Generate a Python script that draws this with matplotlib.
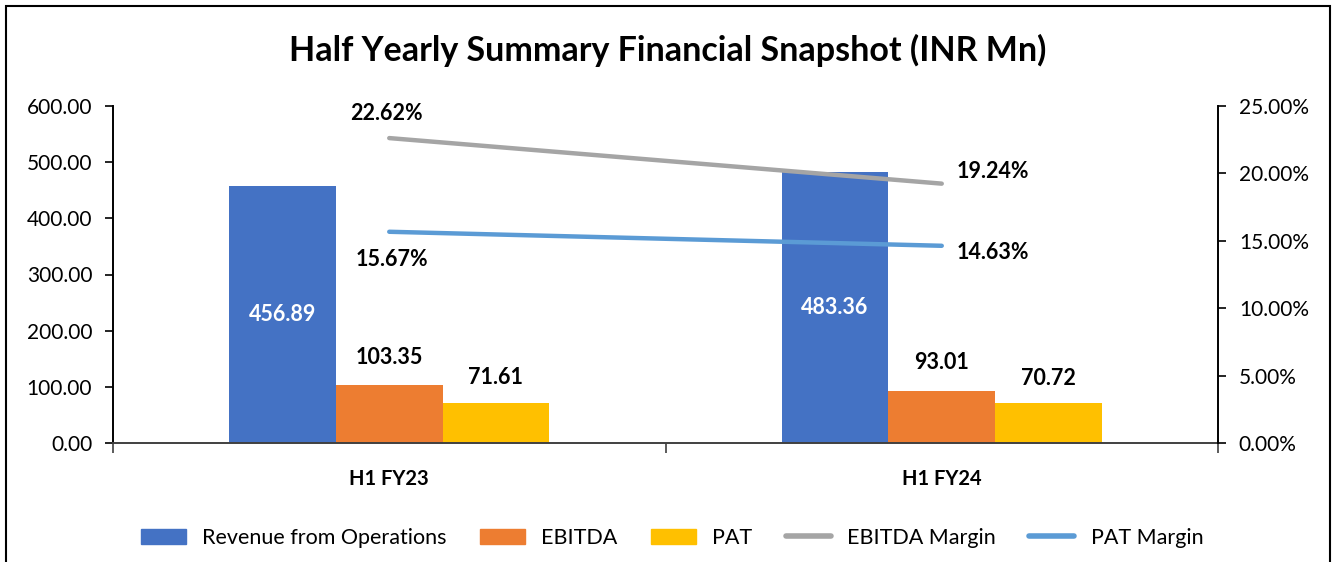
import matplotlib
matplotlib.use("Agg")
import matplotlib.pyplot as plt
from matplotlib.patches import Rectangle, Patch
from matplotlib.lines import Line2D
from matplotlib.ticker import FuncFormatter
import numpy as np

categories = ["H1 FY23", "H1 FY24"]
revenue = [456.89, 483.36]
ebitda = [103.35, 93.01]
pat = [71.61, 70.72]
ebitda_margin = [22.62, 19.24]
pat_margin = [15.67, 14.63]
left_ticks = [0, 100, 200, 300, 400, 500, 600]
right_ticks = [0, 5, 10, 15, 20, 25]

FONT = "Lato"
plt.rcParams['font.family'] = [FONT, 'DejaVu Sans']

C_REV = "#4472C4"
C_EB = "#ED7D31"
C_PAT = "#FFC000"
C_EBM = "#A5A5A5"
C_PATM = "#5B9BD5"

LBL = 15.5

fig = plt.figure(figsize=(13.37, 5.62), dpi=100)
ax = fig.add_axes([113/1337, 1-443/562, (1218-113)/1337, (443-106)/562])
ax2 = ax.twinx()

x = np.arange(len(categories))
w = 0.193
ax.bar(x - w, revenue, w, color=C_REV, zorder=2)
ax.bar(x, ebitda, w, color=C_EB, zorder=2)
ax.bar(x + w, pat, w, color=C_PAT, zorder=2)

for i in range(len(categories)):
    ax.text(x[i] - w, revenue[i] / 2, f"{revenue[i]:.2f}", ha="center", va="center",
            color="white", fontsize=LBL, fontweight="bold")
    ax.annotate(f"{ebitda[i]:.2f}", (x[i], ebitda[i]), xytext=(0, 20), textcoords="offset points",
                ha="center", va="center", fontsize=LBL, fontweight="bold")
    ax.annotate(f"{pat[i]:.2f}", (x[i] + w, pat[i]), xytext=(0, 18), textcoords="offset points",
                ha="center", va="center", fontsize=LBL, fontweight="bold")

ax.set_xlim(-0.5, len(categories) - 0.5)
ax.set_ylim(0, 600)
ax.set_yticks(left_ticks)
ax.yaxis.set_major_formatter(FuncFormatter(lambda v, p: f"{v:.2f}"))
ax.set_xticks([-0.5, 0.5, 1.5])
ax.set_xticklabels([])
ax.set_xticks(x, minor=True)
ax.set_xticklabels(categories, minor=True, fontweight="bold", fontsize=14.5)
ax.tick_params(axis="x", which="minor", length=0, pad=19)
ax.tick_params(axis="x", which="major", length=7, width=1.2, color="#404040")
ax.tick_params(axis="y", length=6, width=1.2, labelsize=15, pad=9)

ax2.plot(x, ebitda_margin, color=C_EBM, lw=3.2, solid_capstyle="round", zorder=3)
ax2.plot(x, pat_margin, color=C_PATM, lw=3.2, solid_capstyle="round", zorder=3)
ax2.set_ylim(0, 25)
ax2.set_yticks(right_ticks)
ax2.yaxis.set_major_formatter(FuncFormatter(lambda v, p: f"{v:.2f}%"))
ax2.tick_params(axis="y", length=6, width=1.2, labelsize=15, pad=9)

# margin labels
ax2.annotate(f"{ebitda_margin[0]:.2f}%", (x[0], ebitda_margin[0]), xytext=(-2, 18),
             textcoords="offset points", ha="center", va="center", fontsize=LBL, fontweight="bold")
ax2.annotate(f"{ebitda_margin[1]:.2f}%", (x[1], ebitda_margin[1]), xytext=(11, 9),
             textcoords="offset points", ha="left", va="center", fontsize=LBL, fontweight="bold")
ax2.annotate(f"{pat_margin[0]:.2f}%", (x[0], pat_margin[0]), xytext=(2, -20),
             textcoords="offset points", ha="center", va="center", fontsize=LBL, fontweight="bold")
ax2.annotate(f"{pat_margin[1]:.2f}%", (x[1], pat_margin[1]), xytext=(11, -5),
             textcoords="offset points", ha="left", va="center", fontsize=LBL, fontweight="bold")

for a in (ax, ax2):
    a.spines["top"].set_visible(False)
ax.spines["right"].set_visible(False)
ax2.spines["left"].set_visible(False)
ax2.spines["bottom"].set_visible(False)
ax.spines["left"].set_linewidth(1.4)
ax2.spines["right"].set_linewidth(1.4)
ax.spines["bottom"].set_color("#404040")
ax.spines["bottom"].set_linewidth(1.4)
ax.spines["bottom"].set_zorder(5)

fig.text(668/1337, 1-50/562, "Half Yearly Summary Financial Snapshot (INR Mn)",
         ha="center", va="center", fontsize=24.5, fontweight="bold")

handles = [Patch(color=C_REV), Patch(color=C_EB), Patch(color=C_PAT),
           Line2D([], [], color=C_EBM, lw=4, solid_capstyle="round"),
           Line2D([], [], color=C_PATM, lw=4, solid_capstyle="round")]
labels = ["Revenue from Operations", "EBITDA", "PAT", "EBITDA Margin", "PAT Margin"]
fig.legend(handles, labels, loc="center", bbox_to_anchor=(672/1337, 1-538/562), ncol=5,
           frameon=False, fontsize=15.5, handlelength=2.1, handleheight=0.7,
           columnspacing=1.55, handletextpad=0.75)

fig.patches.append(Rectangle((6/1337, -0.05), (1330-6)/1337, 1.05 - 6/562, transform=fig.transFigure,
                             fill=False, edgecolor="black", lw=1.5))

fig.savefig("out.png", dpi=100)
